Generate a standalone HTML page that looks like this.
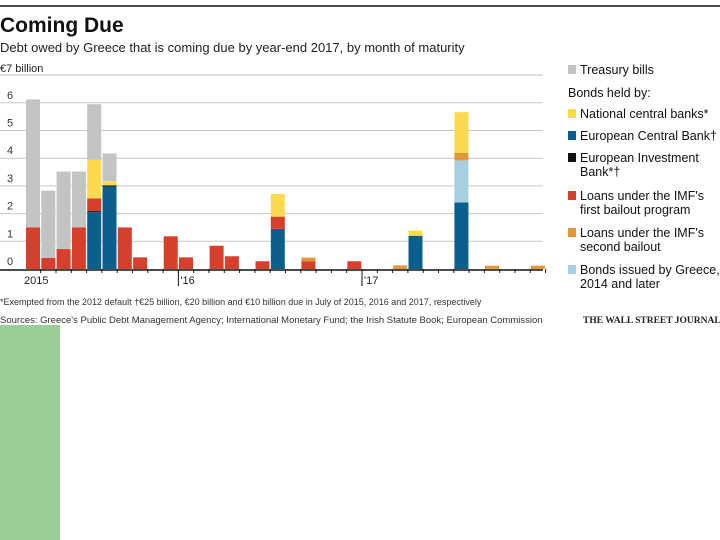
<!DOCTYPE html>
<html><head><meta charset="utf-8"><style>
body{margin:0;background:#fff;width:720px;height:540px;overflow:hidden;font-family:"Liberation Sans",sans-serif}
</style></head><body>
<svg id="c" width="720" height="540" style="position:absolute;left:0;top:0">
<line x1="0" y1="6" x2="720" y2="6" stroke="#111" stroke-width="1.5"/>
<text x="0" y="32" font-size="21" font-weight="bold" fill="#111">Coming Due</text>
<text x="0" y="52" font-size="13" fill="#222">Debt owed by Greece that is coming due by year-end 2017, by month of maturity</text>
<text x="0" y="72" font-size="11" fill="#222">€7 billion</text>
<g id="grid"></g><g id="bars"></g><g id="axis"></g>
<g font-size="12.5" fill="#111" id="legend"></g>
<text x="0" y="305" font-size="9" fill="#333">*Exempted from the 2012 default   †€25 billion, €20 billion and €10 billion due in July of 2015, 2016 and 2017, respectively</text>
<text x="0" y="323" font-size="9.5" fill="#333">Sources: Greece's Public Debt Management Agency; International Monetary Fund; the Irish Statute Book; European Commission</text>
<text x="583" y="323" font-size="9.5" font-family="Liberation Serif,serif" font-weight="bold" fill="#222">THE WALL STREET JOURNAL</text>
<rect x="0" y="325" width="60" height="215" fill="#9ccf97"/>
</svg>
<script>
const months=34;
const yTicks=[0,1,2,3,4,5,6];
const seriesColors=["#0b5f8c","#111","#d63f2b","#a8cfe0","#e4973a","#fcd94f","#c3c3c3"];
// per-month values (Mar 2015 .. Dec 2017)
const ecb=[0,0,0,0,2.05,2.98,0,0,0,0,0,0,0,0,0,0,1.45,0,0,0,0,0,0,0,0,1.2,0,0,2.4,0,0,0,0,0];
const eib=[0,0,0,0,0.04,0.04,0,0,0,0,0,0,0,0,0,0,0,0,0,0,0,0,0,0,0,0,0,0,0,0,0,0,0,0];
const imf1=[1.5,0.4,0.72,1.5,0.46,0,1.5,0.42,0,1.18,0.42,0,0.84,0.46,0,0.28,0.44,0,0.28,0,0,0.28,0,0,0,0,0,0,0,0,0,0,0,0];
const bonds=[0,0,0,0,0,0,0,0,0,0,0,0,0,0,0,0,0,0,0,0,0,0,0,0,0,0,0,0,1.52,0,0,0,0,0];
const imf2=[0,0,0,0,0,0,0,0,0,0,0,0,0,0,0,0,0,0,0.13,0,0,0,0,0,0.13,0,0,0,0.27,0,0.12,0,0,0.12];
const ncb=[0,0,0,0,1.39,0.15,0,0,0,0,0,0,0,0,0,0,0.82,0,0,0,0,0,0,0,0,0.19,0,0,1.47,0,0,0,0,0];
const tbills=[4.62,2.43,2.8,2.02,2.01,1.0,0,0,0,0,0,0,0,0,0,0,0,0,0,0,0,0,0,0,0,0,0,0,0,0,0,0,0,0];
const yearLabels=["2015","'16","'17"];
const yearStartIdx=[0,10,22];
const series=[ecb,eib,imf1,bonds,imf2,ncb,tbills];
const x0=26,slot=15.3,bw=14,zeroY=269,unit=27.7;
const X=i=>x0+i*slot, Y=v=>zeroY-v*unit;
const NS="http://www.w3.org/2000/svg";
function mk(tag,at,parent){const e=document.createElementNS(NS,tag);for(const k in at)e.setAttribute(k,at[k]);parent.appendChild(e);return e;}
const grid=document.getElementById('grid'),bars=document.getElementById('bars'),axis=document.getElementById('axis');
mk('line',{x1:0,x2:543,y1:75,y2:75,stroke:'#bbb','stroke-width':1},grid);
yTicks.forEach(t=>{
 if(t>0){const l=mk('line',{x1:0,x2:543,y1:Y(t),y2:Y(t),stroke:'#c8c8c8','stroke-width':1},grid);
 
 }
 const tx=mk('text',{x:7,y:Y(t)-4,'font-size':11,fill:'#333'},grid);tx.textContent=t;
 
 
});
for(let i=0;i<months;i++){let acc=0;
 series.forEach((s,k)=>{const v=s[i];if(v>0){const r=mk('rect',{x:X(i),y:Y(acc+v),width:bw,height:v*unit,fill:seriesColors[k]},bars);
 
 
 acc+=v;}});
}
const ax=mk('line',{x1:0,x2:543,y1:zeroY+1,y2:zeroY+1,stroke:'#111','stroke-width':1.5},axis);


for(let i=1;i<=months;i++){mk('line',{x1:X(i)-0.6,x2:X(i)-0.6,y1:zeroY,y2:zeroY+4,stroke:'#111','stroke-width':1},axis);}
yearLabels.forEach((lab,j)=>{const xi=X(yearStartIdx[j])-0.6;
 if(j>0)mk('line',{x1:xi,x2:xi,y1:zeroY,y2:zeroY+17,stroke:'#111','stroke-width':1},axis);
 const t=mk('text',{x:j==0?24:xi+2,y:zeroY+15,'font-size':11,fill:'#222'},axis);t.textContent=lab;
 
 
});
const lg=document.getElementById('legend');
const items=[["Treasury bills",6,74],["National central banks*",5,118],["European Central Bank\u2020",0,140],["European Investment|Bank*\u2020",1,162],["Loans under the IMF's|first bailout program",2,200],["Loans under the IMF's|second bailout",4,237],["Bonds issued by Greece,|2014 and later",3,274]];
const bh=mk('text',{x:568,y:97,'font-size':12.5,fill:'#111'},lg);bh.textContent="Bonds held by:";
items.forEach(([lab,k,y])=>{const r=mk('rect',{x:568,y:y-9,width:8,height:9,fill:seriesColors[k]},lg);
 
 
 lab.split('|').forEach((ln,m)=>{const t=mk('text',{x:580,y:y+m*14,'font-size':12.5,fill:'#111'},lg);t.textContent=ln;
 
 });
});
</script>
</body></html>
